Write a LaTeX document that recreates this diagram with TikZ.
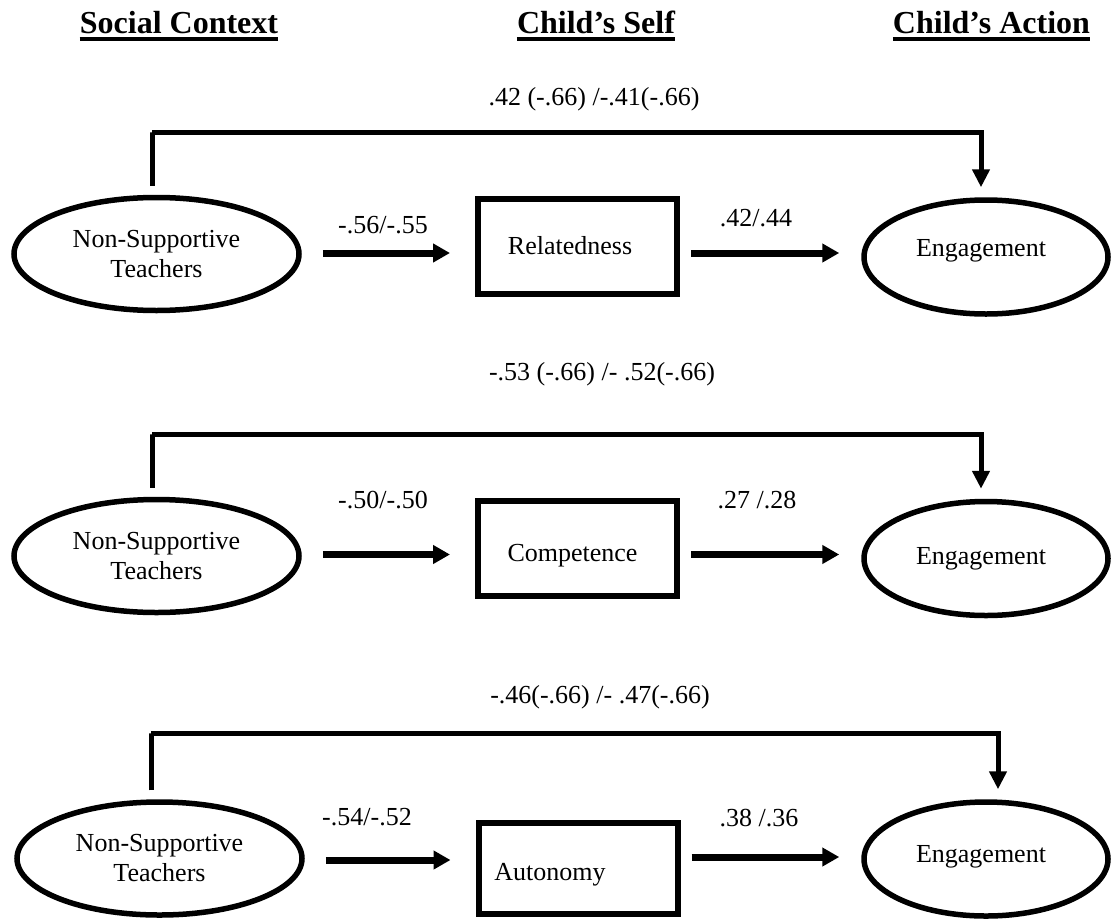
\documentclass[tikz,border=0pt]{standalone}
\usepackage{fontspec}
\setmainfont{Liberation Serif}
\usetikzlibrary{shapes.geometric,arrows.meta}
% text set inside a shape, moved right by #1/2 and its baseline raised by #2
\newcommand\inlabel[3]{\makebox[0pt]{\kern#1\relax\raisebox{#2}[0pt][0pt]{#3}}}
\begin{document}
\begin{tikzpicture}[x=1pt,y=-1pt,
  every node/.style={font=\fontsize{26pt}{30pt}\selectfont, inner sep=0pt},
  hdr/.style={font=\fontsize{32pt}{36pt}\selectfont\bfseries, anchor=base},
  latent/.style={draw, ellipse, line width=5.5pt, align=center},
  lwide/.style={latent, minimum width=285pt, minimum height=113pt},
  lnarrow/.style={latent, minimum width=244pt, minimum height=114pt},
  obs/.style={draw, rectangle, line width=6pt, minimum width=199pt, minimum height=95pt},
  uline/.style={line width=4pt},
  patharr/.style={line width=7pt, -{Triangle[length=17pt,width=18pt]}},
  direct/.style={line width=5pt, -{Triangle[length=18pt,width=17pt]}},
]
\useasboundingbox (0,0) rectangle (1113,918);

% column headings
\node[hdr] (hctx) at (179,33) {Social Context};
\node[hdr] (hself) at (596,33) {Child’s Self};
\node[hdr] (hact) at (991.5,33) {Child’s Action};
\foreach \h in {hctx,hself,hact}
  \draw[uline] ([yshift=-6pt]\h.base west) -- ([yshift=-6pt]\h.base east);

% ---------- model 1: relatedness ----------
\node[lwide] (t1) at (156.5,254) {Non-Supportive\\Teachers};
\node[obs] (r1) at (577.5,246.5) {\inlabel{-15pt}{-7.5pt}{Relatedness}};
\node[lnarrow] (e1) at (986,257) {\inlabel{-10pt}{1pt}{Engagement}};
\coordinate (y1) at (0,253);
\coordinate (top1) at (152,132);
\node (d1) at (594,99.5) {.42 (-.66) /-.41(-.66)};
\node (p1) at (383,225) {-.56/-.55};
\node (q1) at (756,218) {.42/.44};
\draw[patharr, shorten <=21pt, shorten >=25pt] (t1.east |- y1) -- (r1.west |- y1);
\draw[patharr, shorten <=11pt, shorten >=22pt] (r1.east |- y1) -- (e1.west |- y1);
\draw[direct] ([xshift=-4pt,yshift=9pt]t1.north) |- (top1) -| ([xshift=-5pt,yshift=10pt]e1.north);

% ---------- model 2: competence ----------
\node[lwide] (t2) at (156.5,556) {Non-Supportive\\Teachers};
\node[obs] (r2) at (577.5,548) {\inlabel{-10pt}{-13pt}{Competence}};
\node[lnarrow] (e2) at (986,558.5) {\inlabel{-10pt}{-5.5pt}{Engagement}};
\coordinate (y2) at (0,554.5);
\coordinate (top2) at (152,434);
\node (d2) at (602,374) {-.53 (-.66) /- .52(-.66)};
\node (p2) at (383,500) {-.50/-.50};
\node (q2) at (757,500) {.27 /.28};
\draw[patharr, shorten <=21pt, shorten >=25pt] (t2.east |- y2) -- (r2.west |- y2);
\draw[patharr, shorten <=11pt, shorten >=22pt] (r2.east |- y2) -- (e2.west |- y2);
\draw[direct] ([xshift=-4pt,yshift=9pt]t2.north) |- (top2) -| ([xshift=-5pt,yshift=10pt]e2.north);

% ---------- model 3: autonomy ----------
\node[lwide] (t3) at (159.5,858.5) {Non-Supportive\\Teachers};
\node[obs, minimum height=91pt] (r3) at (578,868.5) {\inlabel{-56pt}{-11.5pt}{Autonomy}};
\node[lnarrow] (e3) at (986,859) {\inlabel{-10pt}{-3pt}{Engagement}};
\coordinate (y3a) at (0,860);
\coordinate (y3b) at (0,857);
\coordinate (top3) at (151,733);
\node (d3) at (600,697) {-.46(-.66) /- .47(-.66)};
\node (p3) at (367,817) {-.54/-.52};
\node (q3) at (759,818) {.38 /.36};
\draw[patharr, shorten <=21pt, shorten >=25pt] (t3.east |- y3a) -- (r3.west |- y3a);
\draw[patharr, shorten <=11pt, shorten >=22pt] (r3.east |- y3b) -- (e3.west |- y3b);
\draw[direct] ([xshift=-8pt,yshift=9pt]t3.north) |- (top3) -| ([xshift=12pt,yshift=10pt]e3.north);
\end{tikzpicture}
\end{document}
